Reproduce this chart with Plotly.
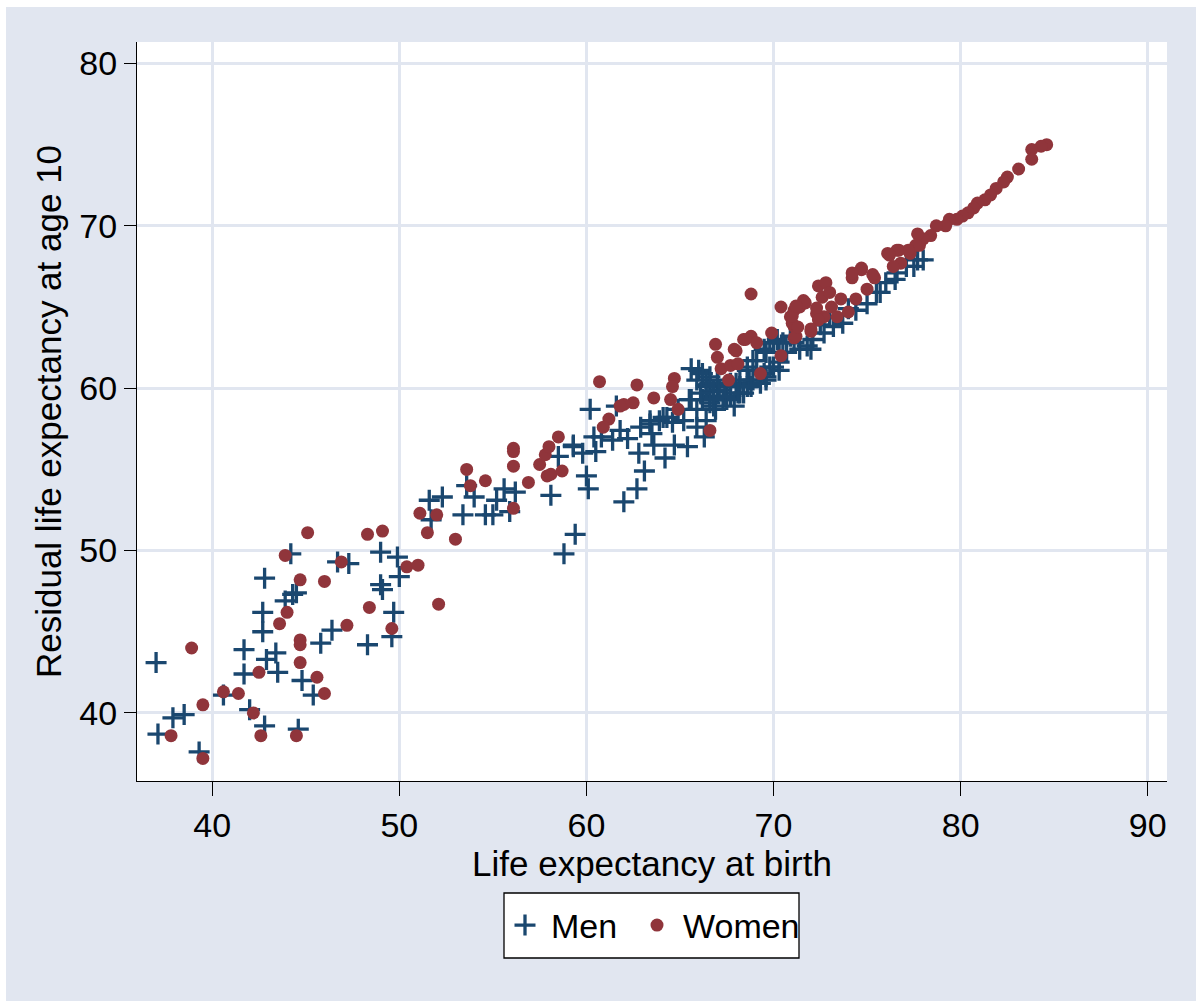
import plotly.graph_objects as go

# ---- data ----
men_x = [37.0, 37.1, 37.9, 38.5, 39.3, 40.6, 41.7, 41.7, 42.0, 42.7, 42.7, 42.8, 42.8, 42.9, 43.4, 43.5,
         43.9, 44.2, 44.3, 44.5, 44.6, 44.8, 45.4, 45.8, 46.4, 46.7, 47.3,
         49.0, 49.9, 50.0, 49.0, 49.1, 49.7, 49.6, 48.3, 51.6, 52.3, 51.7, 53.4, 53.6, 54.0, 54.6, 55.0,
         55.2, 55.6, 55.9, 56.2, 58.1, 58.5, 59.3, 59.4, 58.8,
         60.2, 59.3, 59.8, 60.0, 60.1, 60.4, 60.5, 60.8, 61.4, 61.8, 62.2, 61.6, 62.0, 62.7, 63.1, 62.8,
         63.6, 64.2, 64.7, 65.4, 63.4, 63.9, 64.3, 64.6, 63.5, 65.5, 65.9, 66.4, 66.3, 66.0, 66.4,
         66.6, 67.0, 67.3, 67.7, 68.2, 68.6, 68.9, 69.3, 69.6, 70.0, 70.3, 70.7, 71.1, 70.9, 70.2, 69.6,
         68.9, 68.6, 68.0, 67.0, 66.6, 67.5, 67.9, 66.9,
         66.2, 66.6, 67.1, 68.2, 68.7, 69.5, 69.8, 70.3, 70.5, 71.4, 71.8, 72.1, 72.7, 73.2, 73.7, 74.4,
         75.0, 75.7, 76.0, 76.6, 77.1, 77.7, 66.2, 66.8, 67.5, 68.4, 69.6, 70.3, 70.0, 72.0,
         65.6, 65.9, 66.4, 66.8, 67.4, 67.7, 68.2, 68.6, 69.1, 69.5, 69.8, 65.6, 65.2, 64.1, 63.4, 62.9,
         64.9, 65.9, 66.6, 68.1, 68.8, 66.1, 66.8,
         72.5, 73.0, 74.0, 75.5, 76.5, 77.5, 78.0]
men_y = [43.1, 38.7, 39.7, 39.9, 37.6, 41.1, 42.4, 43.9, 40.2, 45.0, 46.2, 48.3, 39.2, 43.3, 43.7, 42.5,
         46.9, 49.8, 47.3, 47.4, 39.0, 42.0, 41.1, 44.3, 45.1, 49.3, 49.2,
         49.9, 49.6, 48.4, 47.9, 47.6, 46.2, 44.7, 44.2, 53.1, 53.3, 51.9, 52.2, 54.0, 53.3, 52.2, 52.2,
         53.1, 53.8, 52.4, 53.6, 53.4, 55.8, 56.4, 51.0, 49.8,
         58.7, 56.5, 56.0, 54.6, 53.8, 57.0, 56.1, 57.0, 56.8, 57.4, 56.9, 58.9, 53.0, 53.8, 54.9, 56.0,
         56.5, 55.7, 56.5, 56.4, 57.8, 58.0, 58.2, 57.9, 57.2, 59.3, 57.6, 58.0, 57.0, 61.1, 60.2,
         59.5, 59.8, 59.3, 59.5, 59.7, 60.1, 60.5, 60.3, 60.7, 61.3, 61.6, 62.2, 62.8, 63.2, 63.0, 62.2,
         61.7, 61.1, 60.3, 60.5, 60.7, 60.1, 58.9, 58.7,
         60.9, 60.3, 59.9, 60.1, 60.5, 60.9, 61.3, 62.2, 62.8, 62.4, 62.6, 63.0, 63.4, 63.8, 64.0, 64.8,
         65.2, 65.9, 66.5, 67.1, 67.5, 67.9, 59.3, 58.9, 59.3, 59.7, 60.5, 61.1, 62.8, 62.4,
         61.2, 60.5, 60.1, 59.8, 59.5, 60.3, 60.5, 61.3, 61.7, 62.4, 62.8, 59.3, 58.0, 58.2, 58.0, 57.6,
         58.7, 58.7, 59.1, 59.7, 60.1, 59.7, 59.3,
         63.9, 64.4, 64.9, 65.9, 66.7, 67.5, 67.9]

women_x = [38.9, 37.8, 39.5, 39.5, 40.6, 41.4, 42.2, 42.5, 42.6, 43.6, 44.0, 43.9, 44.7, 44.7, 44.7, 44.7,
           44.5, 45.1, 45.6, 46.0, 46.0, 46.9, 47.2,
           48.3, 49.1, 50.4, 51.0, 48.4, 49.6, 52.1, 51.1, 52.0, 51.5, 53.0, 53.6, 53.8, 54.6, 56.1, 56.1,
           56.1, 56.1, 56.9, 57.5, 57.8, 58.0, 58.5, 57.9, 58.1, 58.7,
           60.7, 62.7, 64.7, 64.6, 64.5, 63.6, 62.5, 62.0, 61.8, 61.2, 60.9, 64.9, 66.6, 66.9, 67.0, 68.0,
           68.4, 68.8, 69.1, 67.2, 67.7, 68.1, 67.6, 69.3, 70.4, 69.9, 71.1,
           68.8, 70.4, 67.9, 70.9, 71.1, 71.2, 71.4, 71.6, 72.0, 72.4, 72.8, 72.6, 73.0, 73.1, 73.4, 72.7,
           72.3, 73.6, 74.2, 74.7, 75.0, 75.4, 74.4, 74.0, 76.1, 76.7, 76.8, 77.3, 77.8,
           71.1, 71.0, 68.5, 71.7, 72.3, 72.4, 72.0, 71.3, 71.0, 71.2,
           84.6, 84.3, 83.8, 83.8, 83.1, 82.5, 82.3, 81.9, 81.6, 81.3, 80.9, 80.7, 80.4, 80.1, 79.8, 79.4,
           79.2, 78.7, 78.4, 78.0, 77.7, 77.6, 77.2, 76.6, 76.2, 74.7, 74.2, 75.3, 76.4]
women_y = [44.0, 38.6, 40.5, 37.2, 41.3, 41.2, 40.0, 42.5, 38.6, 45.5, 46.2, 49.7, 48.2, 44.5, 44.2, 43.1,
           38.6, 51.1, 42.2, 48.1, 41.2, 49.3, 45.4,
           51.0, 51.2, 49.0, 49.1, 46.5, 45.2, 46.7, 52.3, 52.2, 51.1, 50.7, 55.0, 54.0, 54.3, 56.3, 56.1,
           55.2, 52.6, 54.2, 55.3, 55.9, 56.4, 57.0, 54.6, 54.7, 54.9,
           60.4, 60.2, 60.6, 60.1, 59.3, 59.4, 59.1, 59.0, 58.9, 58.1, 57.6, 58.7, 57.4, 62.7, 61.9, 62.3,
           63.0, 63.2, 62.8, 61.2, 61.4, 61.5, 60.5, 60.9, 62.0, 63.4, 63.1,
           65.8, 65.0, 62.4, 64.4, 63.8, 63.2, 65.0, 65.4, 63.5, 66.3, 66.5, 65.6, 65.9, 65.0, 64.4, 64.4,
           64.6, 65.5, 66.8, 67.3, 66.1, 66.8, 65.5, 64.7, 68.3, 68.5, 67.7, 68.3, 68.8,
           64.8, 64.0, 63.0, 65.25, 64.94, 64.2, 63.65, 63.77, 64.45, 65.06,
           75.0, 74.9, 74.7, 74.1, 73.5, 73.0, 72.7, 72.3, 71.9, 71.6, 71.4, 71.1, 70.8, 70.6, 70.4, 70.4,
           70.0, 70.0, 69.4, 69.2, 69.5, 68.8, 68.5, 68.5, 68.2, 67.4, 67.1, 67.0, 67.5]

x_ticks = [40, 50, 60, 70, 80, 90]
y_ticks = [40, 50, 60, 70, 80]

BG = "#E1E6F0"
NAVY = "#1A476F"
MAROON = "#90353B"
FONT = "Liberation Sans, Arial, Helvetica, sans-serif"

fig = go.Figure()
fig.add_trace(go.Scatter(
    x=men_x, y=men_y, mode="markers", name="Men", legendwidth=75,
    marker=dict(symbol="cross-thin-open", size=15, color=NAVY,
                line=dict(color=NAVY, width=3.3)),
))
fig.add_trace(go.Scatter(
    x=women_x, y=women_y, mode="markers", name="Women",
    marker=dict(symbol="circle", size=13, color=MAROON, line=dict(width=0)),
))

axis_common = dict(
    showgrid=True, gridcolor=BG, gridwidth=3,
    showline=True, linecolor="black", linewidth=1.3,
    ticks="outside", tickcolor="black", tickwidth=1.3,
    zeroline=False, mirror=False,
    tickfont=dict(family=FONT, size=34, color="black"),
)

# pixel -> paper helpers for the plot area (l=137, r=1167, t=42, b=781)
def px_x(p):
    return (p - 137) / 1030.0

def px_y(p):
    return (781 - p) / 739.0

fig.update_layout(
    width=1196, height=1001,
    margin=dict(l=137, r=29, t=42, b=220),
    paper_bgcolor=BG, plot_bgcolor="white",
    font=dict(family=FONT, size=34, color="black"),
    xaxis=dict(range=[35.98, 91.03], tickvals=x_ticks, ticklen=14,
               title=dict(text="Life expectancy at birth", font=dict(size=35), standoff=4),
               **axis_common),
    yaxis=dict(range=[35.81, 81.32], tickvals=y_ticks, ticklen=12,
               title=dict(text="Residual life expectancy at age 10", font=dict(size=35), standoff=6),
               **axis_common),
    legend=dict(orientation="h", x=0.5, xanchor="center", y=px_y(925.5), yanchor="middle",
                bgcolor="rgba(0,0,0,0)", borderwidth=0, itemwidth=42,
                font=dict(family=FONT, size=34, color="black")),
    showlegend=True,
    shapes=[
        dict(type="rect", xref="paper", yref="paper", x0=-0.2, x1=1.1, y0=px_y(7), y1=1.07,
             fillcolor="white", line=dict(width=0), layer="above"),
        dict(type="rect", xref="paper", yref="paper", x0=-0.2, x1=px_x(6), y0=-0.4, y1=1.07,
             fillcolor="white", line=dict(width=0), layer="above"),
        dict(type="rect", xref="paper", yref="paper", x0=px_x(504), x1=px_x(799),
             y0=px_y(958), y1=px_y(893),
             fillcolor="white", line=dict(color="black", width=1.3), layer="below"),
    ],
)

fig.write_html("out.html")
